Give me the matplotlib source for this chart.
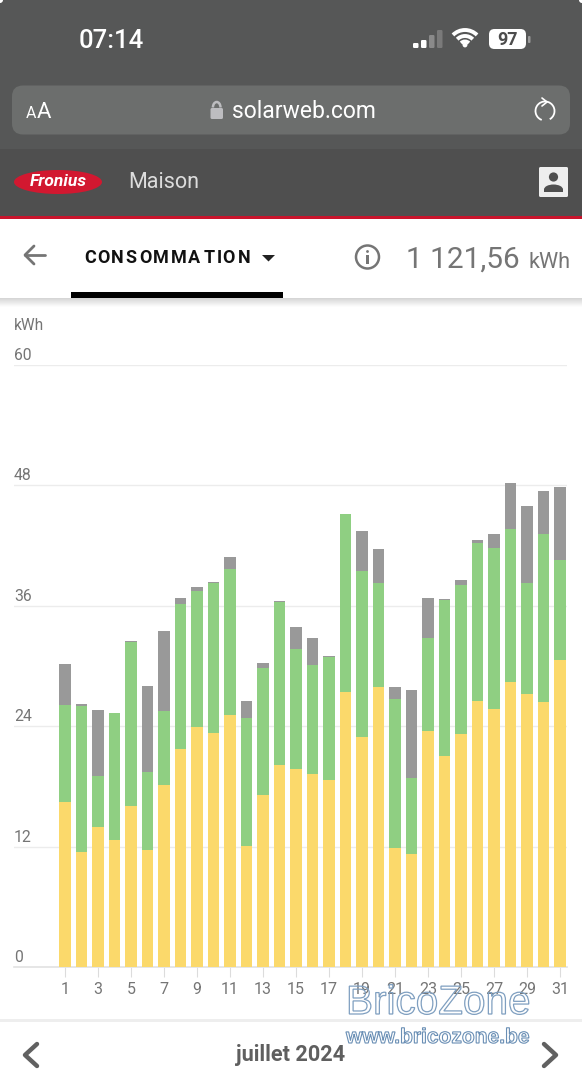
import numpy as np
import matplotlib
matplotlib.use("Agg")
import matplotlib.pyplot as plt
from matplotlib.patches import Rectangle, FancyBboxPatch, Ellipse, Circle, Polygon, Arc, PathPatch
from matplotlib.textpath import TextPath
from matplotlib.font_manager import FontProperties
from matplotlib.transforms import Affine2D

plt.rcParams["font.family"] = ["Roboto", "DejaVu Sans"]

# Daily energy per source, kWh
days = list(range(1, 32))
solar = [16.5, 11.5, 14.0, 12.7, 16.1, 11.7, 18.2, 21.7, 23.9, 23.3, 25.1, 12.1, 17.2, 20.2, 19.8, 19.3,
         18.7, 27.4, 22.9, 27.9, 11.9, 11.3, 23.5, 21.0, 23.2, 26.5, 25.7, 28.4, 27.2, 26.4, 30.6]
battery = [9.6, 14.5, 5.1, 12.6, 16.3, 7.8, 7.3, 14.5, 13.6, 15.0, 14.6, 12.7, 12.6, 16.2, 11.9, 10.8,
           12.2, 17.8, 16.6, 10.4, 14.8, 7.6, 9.3, 15.6, 14.9, 15.8, 16.1, 15.3, 11.1, 16.8, 10.0]
grid = [4.1, 0.2, 6.5, 0.0, 0.1, 8.5, 8.0, 0.6, 0.4, 0.1, 1.2, 1.7, 0.5, 0.1, 2.2, 2.7,
        0.1, 0.0, 4.0, 3.4, 1.2, 8.7, 4.0, 0.1, 0.5, 0.3, 1.4, 4.5, 7.7, 4.2, 7.2]
y_ticks = [0, 12, 24, 36, 48, 60]
x_ticks = list(range(1, 32, 2))

W, H = 582, 1080
GREY_TEXT = "#757575"
fig = plt.figure(figsize=(W / 100, H / 100), dpi=100, facecolor="white")

# Chart area
left, right, y0, y60 = 14, 567, 967.3, 365
ax = fig.add_axes([left / W, 1 - y0 / H, (right - left) / W, (y0 - y60) / H])
ax.set_xlim(-2.09, 31.42)
ax.set_ylim(0, 60)
for s in ax.spines.values():
    s.set_visible(False)
ax.patch.set_alpha(0)
ax.set_axisbelow(True)
ax.set_yticks(y_ticks)
ax.yaxis.set_tick_params(length=0, labelleft=False)
ax.grid(axis="y", color="#ececec", lw=1)
ax.xaxis.grid(False)
ax.axhline(0, color="#e2e2e2", lw=1.2, zorder=1, clip_on=False)

s = np.array(solar)
b = np.array(battery)
g = np.array(grid)
bw = 0.68
ax.bar(days, s, width=bw, color="#FBD96B", zorder=2)
ax.bar(days, b, width=bw, bottom=s, color="#8FCF82", zorder=2)
ax.bar(days, g, width=bw, bottom=s + b, color="#999999", zorder=2)

ax.set_xticks(x_ticks)
ax.set_xticklabels([str(d) for d in x_ticks], fontsize=11.5, color=GREY_TEXT)
ax.tick_params(axis="x", length=7.5, width=0.8, color="#dcdcdc", pad=2.8)

for v in y_ticks:
    ax.annotate(str(v), (0, v), xycoords=("axes fraction", "data"), xytext=(0, 1.6),
                textcoords="offset points", fontsize=11.3, color=GREY_TEXT, va="bottom", ha="left")

# Page furniture, drawn in pixel coordinates on top of the chart
ui = fig.add_axes([0, 0, 1, 1], zorder=5)
ui.set_xlim(0, W)
ui.set_ylim(H, 0)
ui.axis("off")
ui.patch.set_alpha(0)


def rect(x0, y0_, x1, y1, c, **kw):
    ui.add_patch(Rectangle((x0, y0_), x1 - x0, y1 - y0_, fc=c, ec="none", **kw))


def rrect(x0, y0_, x1, y1, r, c, **kw):
    ui.add_patch(FancyBboxPatch((x0 + r, y0_ + r), x1 - x0 - 2 * r, y1 - y0_ - 2 * r,
                                boxstyle=f"round,pad={r}", fc=c, ec="none", **kw))


def line(xs, ys, c, lw, **kw):
    ui.plot(xs, ys, color=c, lw=lw, solid_capstyle="round", solid_joinstyle="round", **kw)


def spaced(x, y, txt, size, spacing, **kw):
    # Draws a string glyph by glyph with extra tracking
    fp = FontProperties(family="Roboto", weight=kw.get("weight", "normal"), size=size)
    for i, ch in enumerate(txt):
        start = TextPath((0, 0), txt[:i], prop=fp).get_extents().x1 if i else 0
        ui.text(x + start * 100 / 72 + i * spacing, y, ch, fontsize=size, va="center", ha="left", **kw)


def outlined(x, y, txt, size_px, c, lw, weight="normal"):
    # Hollow lettering: the glyph contours only, so the content behind shows through
    fp = FontProperties(family="Liberation Sans", weight=weight)
    tp = TextPath((0, 0), txt, size=size_px, prop=fp)
    tr = Affine2D().scale(1, -1).translate(x, y) + ui.transData
    ui.add_patch(PathPatch(tp, fc="none", ec=c, lw=lw, transform=tr, clip_on=False))


# Browser header
rect(0, 0, W, 149, "#565757")
rect(0, 149, W, 216, "#4f4f4f")
rect(0, 216, W, 219, "#c8142c")
for (cx, cy) in [(0, 0), (W, 0)]:
    ui.add_patch(Circle((cx, cy), 3, fc="white", ec="none"))
ui.text(79, 41.5, "07:14", color="white", fontsize=18.5, weight="medium", va="center", ha="left")

# Status icons
for x, top, col in [(413, 43, "white"), (421, 40, "white"), (429, 35, "#8a8a8a"), (437, 30, "#7a7a7a")]:
    rrect(x, top, x + 5.5, 48, 1.2, col)
for r, lw in [(17, 2.8), (11, 2.8), (5.5, 2.8)]:
    ui.add_patch(Arc((465, 47), 2 * r, 2 * r, theta1=225, theta2=315, color="white", lw=lw))
ui.add_patch(Circle((465, 45), 2.4, fc="white", ec="none"))
rrect(489, 29, 526, 49, 5.5, "white")
ui.text(507.5, 40, "97", color="#4c4c4c", fontsize=13, weight="bold", va="center", ha="center")
rrect(528, 36, 530.5, 43, 1, "#9a9a9a")

# Address bar
rrect(12, 85.5, 570, 134.5, 11, "#6c6e6d")
ui.text(26, 114, "A", color="white", fontsize=11.5, va="center", ha="left")
ui.text(37, 112, "A", color="white", fontsize=16, va="center", ha="left")
rrect(210.5, 108, 223, 119, 1.5, "#bdbdc0")
ui.add_patch(Arc((216.7, 107.5), 7.6, 11, theta1=180, theta2=360, color="#bdbdc0", lw=1.8))
ui.text(232, 111.5, "solarweb.com", color="white", fontsize=16.5, va="center", ha="left")
ui.add_patch(Arc((545, 111), 19, 19, theta1=-250, theta2=60, color="white", lw=1.3))
line([542, 547, 542], [98, 102, 106], "white", 1.2)

# Site navigation
ui.add_patch(Ellipse((58, 182), 88, 24, fc="#d21830", ec="none"))
ui.text(58, 182, "Fronius", color="white", fontsize=12.5, style="italic", weight="bold",
        va="center", ha="center")
ui.text(128.5, 182.5, "Maison", color="#dddddd", fontsize=15.5, va="center", ha="left")
rrect(539, 167, 568, 197, 1.5, "#eeeeee")
ui.add_patch(Circle((553.5, 177), 4.6, fc="#4f4f4f", ec="none"))
ui.add_patch(Ellipse((553.5, 189.5), 19, 10, fc="#4f4f4f", ec="none"))
rect(543, 190, 564, 195, "#eeeeee")
rect(544, 189, 563, 191.5, "#4f4f4f")

# Tab row
line([25, 45], [255, 255], GREY_TEXT, 2)
line([34, 25, 34], [246, 255, 264], GREY_TEXT, 2)
spaced(84, 258, "CONSOMMATION", 13, 1.9, weight="bold", color="#111111")
ui.add_patch(Polygon([[262, 255], [275, 255], [268.5, 261.5]], fc="#222222", ec="none"))
ui.add_patch(Circle((367.5, 257), 11.5, fc="none", ec=GREY_TEXT, lw=1.8))
ui.add_patch(Circle((367.5, 251.5), 1.4, fc=GREY_TEXT, ec="none"))
rect(366.3, 255, 368.8, 263.5, GREY_TEXT)
ui.text(406, 260, "1 121,56", color=GREY_TEXT, fontsize=21.4, va="center", ha="left")
ui.text(529, 262, "kWh", color=GREY_TEXT, fontsize=15.6, va="center", ha="left")
rect(70.5, 292, 282.5, 297.5, "black")
for i, a in enumerate(np.linspace(0.16, 0.01, 9)):
    rect(0, 297.5 + i, W, 298.5 + i, "black", alpha=float(a))

ui.text(14, 326, "kWh", color=GREY_TEXT, fontsize=11.2, va="center", ha="left")

# Bottom month selector
rect(0, 1019, W, 1022, "#eeeeee")
ui.text(290.5, 1054.5, "juillet 2024", color="#5f5f5f", fontsize=15.6, weight="bold", va="center", ha="center")
line([37, 25, 37], [1044, 1055, 1066], "#616161", 3.2)
line([544, 556, 544], [1044, 1055, 1066], "#616161", 3.2)

# Forum watermark
outlined(346, 1014, "BricoZone", 40.5, "#7f9fc0", 0.9)
outlined(346, 1043, "www.bricozone.be", 21, "#6a8fb5", 0.8, weight="bold")

fig.savefig("out.png", dpi=100, facecolor="white")
